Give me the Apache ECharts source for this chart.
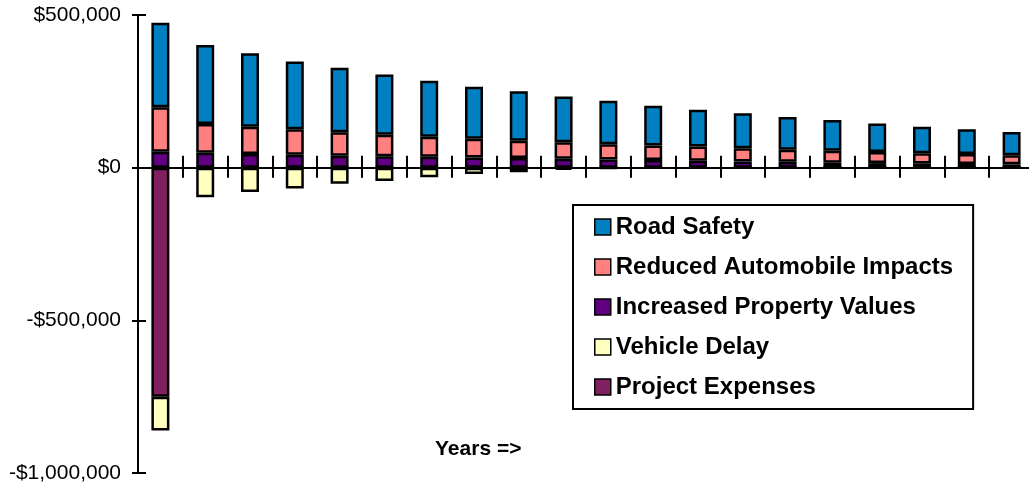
<!DOCTYPE html>
<html>
<head>
<meta charset="utf-8">
<title>Annual Benefits and Costs</title>
<script src="https://cdn.jsdelivr.net/npm/echarts@6/dist/echarts.min.js"></script>
<style>
  html, body { margin: 0; padding: 0; background: #ffffff; }
  #chart { width: 1029px; height: 486px; overflow: hidden; }
</style>
</head>
<body>
<div id="chart"></div>
<script>
// Years of the analysis period
const years = ['1','2','3','4','5','6','7','8','9','10','11','12','13','14','15','16','17','18','19','20'];

// Annual values per category, in dollars
const roadSafety = [277000, 259000, 241000, 222000, 211000, 197000, 184000, 170000, 162000, 150000,
                    142000, 130000, 121000, 114000, 107000, 101000, 94000, 87000, 81000, 76000];
const reducedAutoImpacts = [146000, 94000, 89000, 84000, 77000, 71000, 65000, 62000, 56000, 54000,
                            50000, 48000, 46000, 44000, 40000, 39000, 36000, 33000, 33000, 30000];
const propertyValues = [52000, 49000, 45000, 42000, 39000, 37000, 36000, 33000, 32000, 29000,
                        27000, 25000, 23000, 20000, 19000, 16000, 15000, 14000, 12000, 11000];
const vehicleDelay = [-111000, -97000, -80000, -68000, -53000, -44000, -31000, -21000, -15000, -7000,
                      -2000, 0, 0, 0, 0, 0, 0, 0, 0, 0];
const projectExpenses = [-750000, 0, 0, 0, 0, 0, 0, 0, 0, 0,
                         0, 0, 0, 0, 0, 0, 0, 0, 0, 0];

// Value axis ticks
const yTicks = [-1000000, -500000, 0, 500000];

const FONT = '"Liberation Sans", Arial, sans-serif';

function money(v) {
  return (v < 0 ? '-' : '') + '$' + Math.abs(v).toLocaleString('en-US');
}

// Stacking order: first series sits next to the zero line
const seriesDefs = [
  { name: 'Project Expenses',            data: projectExpenses,    color: '#802060' },
  { name: 'Vehicle Delay',               data: vehicleDelay,       color: '#FFFFC0' },
  { name: 'Increased Property Values',   data: propertyValues,     color: '#600080' },
  { name: 'Reduced Automobile Impacts',  data: reducedAutoImpacts, color: '#FF8080' },
  { name: 'Road Safety',                 data: roadSafety,         color: '#0080C0' }
];

const chart = echarts.init(document.getElementById('chart'));

const yMin = yTicks[0], yMax = yTicks[yTicks.length - 1], yStep = yTicks[1] - yTicks[0];

chart.setOption({
  animation: false,
  backgroundColor: '#ffffff',
  textStyle: { fontFamily: FONT },
  title: {
    text: 'Years =>',
    left: 435,
    top: 439,
    padding: 0,
    textStyle: { fontFamily: FONT, fontSize: 21, fontWeight: 'bold', color: '#000000' }
  },
  legend: {
    orient: 'vertical',
    left: 573,
    top: 205,
    width: 400,
    padding: [10, 20, 10, 21],
    itemGap: 16,
    itemWidth: 16,
    itemHeight: 16,
    icon: 'rect',
    backgroundColor: '#ffffff',
    borderColor: '#000000',
    borderWidth: 2,
    borderRadius: 0,
    itemStyle: { borderColor: '#000000', borderWidth: 1.5 },
    data: ['Road Safety', 'Reduced Automobile Impacts', 'Increased Property Values', 'Vehicle Delay', 'Project Expenses'],
    textStyle: { fontFamily: FONT, fontSize: 24, fontWeight: 'bold', color: '#000000', lineHeight: 24 }
  },
  // the category band runs a little past the right edge of the page
  grid: { left: 138, top: 15, width: 896, height: 458, containLabel: false, outerBoundsMode: 'none' },
  xAxis: [
    {
      type: 'category',
      data: years,
      position: 'bottom',
      axisLine: { show: true, onZero: true, lineStyle: { color: '#000000', width: 2 } },
      axisTick: { show: true, interval: 0, length: 10, lineStyle: { color: '#000000', width: 2 } },
      axisLabel: { show: false },
      splitLine: { show: false }
    },
    {
      type: 'category',
      data: years,
      position: 'bottom',
      axisLine: { show: false, onZero: true },
      axisTick: { show: true, inside: true, interval: 0, length: 12, lineStyle: { color: '#000000', width: 2 } },
      axisLabel: { show: false },
      splitLine: { show: false }
    }
  ],
  yAxis: [
    {
      type: 'value',
      min: yMin,
      max: yMax,
      interval: yStep,
      position: 'left',
      axisLine: { show: true, lineStyle: { color: '#000000', width: 2 } },
      axisTick: { show: true, length: 6, lineStyle: { color: '#000000', width: 2 } },
      axisLabel: {
        margin: 17,
        fontFamily: FONT,
        fontSize: 21,
        color: '#000000',
        formatter: money
      },
      splitLine: { show: false }
    },
    {
      type: 'value',
      min: yMin,
      max: yMax,
      interval: yStep,
      position: 'left',
      axisLine: { show: false },
      axisTick: { show: true, inside: true, length: 8, lineStyle: { color: '#000000', width: 2 } },
      axisLabel: { show: false },
      splitLine: { show: false }
    }
  ],
  series: seriesDefs.map(s => ({
    name: s.name,
    type: 'bar',
    stack: 'total',
    xAxisIndex: 0,
    yAxisIndex: 0,
    barWidth: 18,
    data: s.data,
    itemStyle: { color: s.color, borderColor: '#000000', borderWidth: 2.5 },
    emphasis: { disabled: true }
  }))
});
</script>
</body>
</html>
